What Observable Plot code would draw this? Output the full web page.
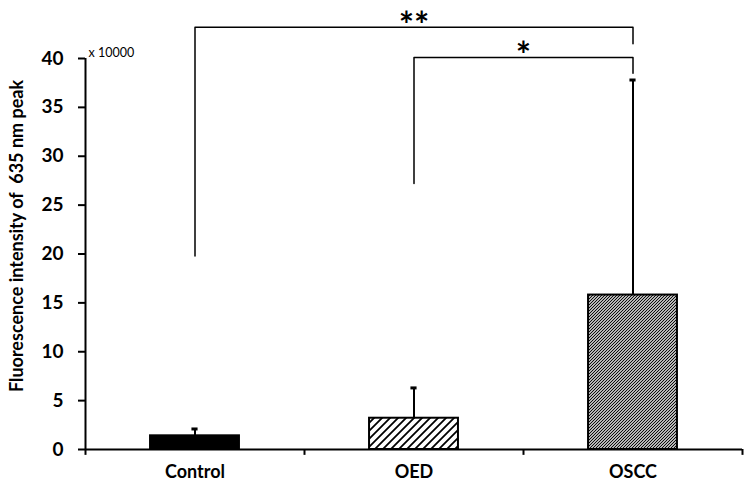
<!DOCTYPE html>
<html>
<head>
<meta charset="utf-8">
<script src="https://cdn.jsdelivr.net/npm/d3@7"></script>
<script src="https://cdn.jsdelivr.net/npm/@observablehq/plot@0.6"></script>
<style>
  html, body { margin: 0; padding: 0; background: #fff; }
  svg { display: block; }
</style>
</head>
<body>
<div id="chart"></div>
<script>
// ---- data ----
const categories = ["Control", "OED", "OSCC"];
const means = [1.4, 3.2, 15.8];
const errUpper = [0.7, 3.1, 22.0];          // upper error (SD)
const yTicks = [0, 5, 10, 15, 20, 25, 30, 35, 40];
const yTitle = "Fluorescence intensity of  635 nm peak";
const unitLabel = "x 10000";
// significance brackets
const bracketFrom = ["Control", "OED"];
const bracketTo = ["OSCC", "OSCC"];
const bracketTop = [43.2, 40.1];
const bracketLeftFoot = [19.8, 27.2];
const bracketRightFoot = [41.5, 38.5];
const bracketLabel = ["**", "*"];

// ---- derived tables ----
const idx = c => categories.indexOf(c) + 0.5;
const fillFor = {Control: "black", OED: "url(#hatchSparse)", OSCC: "url(#hatchDense)"};
const bars = categories.map((c, i) => ({cat: c, x: i + 0.5, mean: means[i], hi: means[i] + errUpper[i]}));
const half = 0.203;   // half bar width in band units
const cap = 0.014;
const bracketPaths = [];
bracketFrom.forEach((f, k) => {
  const a = idx(f), b = idx(bracketTo[k]);
  [[a, bracketLeftFoot[k]], [a, bracketTop[k]], [b, bracketTop[k]], [b, bracketRightFoot[k]]]
    .forEach(([x, y]) => bracketPaths.push({k, x, y}));
});
const bracketText = bracketFrom.map((f, k) => ({x: (idx(f) + idx(bracketTo[k])) / 2, y: bracketTop[k], label: bracketLabel[k]}));

const font = "Lato, 'Open Sans', sans-serif";

const chart = Plot.plot({
  width: 751,
  height: 491,
  marginTop: 58,
  marginBottom: 42,
  marginLeft: 85,
  marginRight: 9,
  style: {fontFamily: font, background: "white", color: "black"},
  x: {type: "linear", domain: [0, categories.length], axis: null},
  y: {domain: [0, 40], axis: null},
  color: {type: "identity"},
  marks: [
    // bars
    Plot.rectY(bars, {x1: d => d.x - half, x2: d => d.x + half, y1: 0, y2: "mean",
      fill: d => fillFor[d.cat], stroke: "black", strokeWidth: 2}),
    // error bars
    Plot.ruleX(bars, {x: "x", y1: "mean", y2: "hi", stroke: "black", strokeWidth: 2}),
    Plot.ruleY(bars, {y: "hi", x1: d => d.x - cap, x2: d => d.x + cap, stroke: "black", strokeWidth: 3}),
    // y axis
    Plot.ruleX([0], {y1: 0, y2: 40, stroke: "black", strokeWidth: 2}),
    Plot.axisY(yTicks, {tickSize: 7, tickPadding: 15, fontSize: 19, fontWeight: "bold", label: null, strokeWidth: 2}),
    // x axis
    Plot.ruleY([0], {x1: 0, x2: categories.length, stroke: "black", strokeWidth: 2}),
    Plot.ruleX(d3.range(categories.length + 1), {y1: 0, y2: -0.6, stroke: "black", strokeWidth: 2}),
    Plot.text(categories, {x: (d, i) => i + 0.5, y: 0, dy: 23, fontSize: 18, fontWeight: "bold", lineAnchor: "middle"}),
    // titles
    Plot.text([yTitle], {frameAnchor: "left", rotate: -90, dx: -68, dy: -18, fontSize: 18, fontWeight: "bold", textAnchor: "middle"}),
    Plot.text([unitLabel], {frameAnchor: "top-left", dx: 3, dy: -10, fontSize: 12.5, textAnchor: "start"}),
    // significance brackets
    Plot.line(bracketPaths, {x: "x", y: "y", z: "k", stroke: "black", strokeWidth: 1.5}),
    Plot.text(bracketText, {x: "x", y: "y", text: "label", dy: -1, fontSize: 36, fontWeight: "bold", lineAnchor: "middle"})
  ]
});

const svg = d3.select(chart);
const defs = svg.insert("defs", ":first-child");
const p1 = defs.append("pattern").attr("id", "hatchSparse").attr("patternUnits", "userSpaceOnUse")
  .attr("width", 8).attr("height", 8);
p1.append("rect").attr("width", 8).attr("height", 8).attr("fill", "white");
p1.append("path").attr("d", "M-2,2 L2,-2 M0,8 L8,0 M6,10 L10,6").attr("stroke", "black").attr("stroke-width", 1.8);
const p2 = defs.append("pattern").attr("id", "hatchDense").attr("patternUnits", "userSpaceOnUse")
  .attr("width", 3).attr("height", 3);
p2.append("rect").attr("width", 3).attr("height", 3).attr("fill", "white");
p2.append("path").attr("d", "M-1,1 L1,-1 M0,3 L3,0 M2,4 L4,2").attr("stroke", "black").attr("stroke-width", 1.1);

document.getElementById("chart").appendChild(chart);
</script>
</body>
</html>
